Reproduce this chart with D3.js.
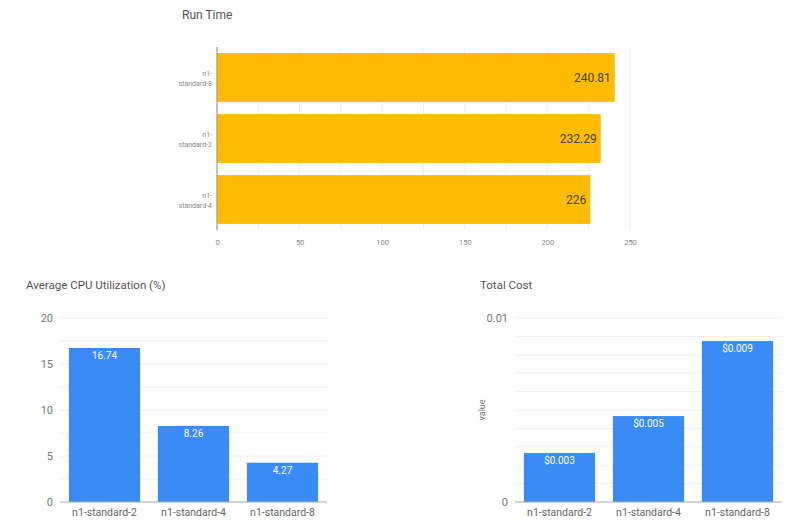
<!DOCTYPE html>
<html><head><meta charset="utf-8">
<script src="https://cdn.jsdelivr.net/npm/d3@7"></script>
<style>body{margin:0;background:#fff;font-family:Roboto,"Noto Sans",sans-serif}</style>
</head><body><svg id="c" width="800" height="525"></svg>
<script>
const runCats = ["n1-standard-8","n1-standard-2","n1-standard-4"];
const runVals = [240.81, 232.29, 226];
const runLabels = ["240.81","232.29","226"];
const runTicks = [0,50,100,150,200,250];

const cpuCats = ["n1-standard-2","n1-standard-4","n1-standard-8"];
const cpuVals = [16.74, 8.26, 4.27];
const cpuLabels = ["16.74","8.26","4.27"];
const cpuTicks = [0,5,10,15,20];

const costCats = ["n1-standard-2","n1-standard-4","n1-standard-8"];
const costVals = [0.00266, 0.00467, 0.00875];
const costLabels = ["$0.003","$0.005","$0.009"];
const costTicks = [0, 0.01];

const svg = d3.select("#c");
const yellow = "#FFBC02", blue = "#3A8BF6";

// ---- Run Time (horizontal) ----
svg.append("text").attr("x",182).attr("y",19).attr("font-size",12).attr("fill","#555").text("Run Time");
const x1 = d3.scaleLinear().domain([0,250]).range([217,630]);
const y1 = d3.scaleBand().domain(runCats).range([47,230]).paddingInner(0.2).paddingOuter(0.1);
const g1 = svg.append("g");
g1.selectAll("line.grid").data(d3.range(25,251,25)).join("line")
  .attr("x1",d=>x1(d)).attr("x2",d=>x1(d)).attr("y1",47).attr("y2",230)
  .attr("stroke","#ececec").attr("stroke-width",1);
g1.selectAll("rect").data(runVals).join("rect")
  .attr("x",x1(0)).attr("y",(d,i)=>y1(runCats[i])).attr("width",d=>x1(d)-x1(0)).attr("height",y1.bandwidth())
  .attr("fill",yellow);
g1.append("line").attr("x1",217).attr("x2",217).attr("y1",47).attr("y2",230).attr("stroke","#999").attr("stroke-width",1.2);
g1.selectAll("text.v").data(runVals).join("text")
  .attr("x",d=>x1(d)-4).attr("y",(d,i)=>y1(runCats[i])+y1.bandwidth()/2+4)
  .attr("text-anchor","end").attr("font-size",12).attr("fill","#444").text((d,i)=>runLabels[i]);
runCats.forEach(c=>{
  const t = g1.append("text").attr("text-anchor","end").attr("font-size",7).attr("fill","#888");
  const cy = y1(c)+y1.bandwidth()/2;
  t.append("tspan").attr("x",212).attr("y",cy-2).text("n1-");
  t.append("tspan").attr("x",212).attr("y",cy+8).text(c.replace("n1-",""));
});
const ax1 = d3.axisBottom(x1).tickValues(runTicks).tickSize(0).tickPadding(8);
const a1 = svg.append("g").attr("transform","translate(0,232)").call(ax1);
a1.select(".domain").remove();
a1.selectAll("text").attr("font-size",7.5).attr("fill","#888").attr("font-family","Roboto");

// ---- Bottom charts ----
function vbar(cats, vals, labels, ticks, dmax, minorStep, left, right, tickFmt, title, tx){
  const y = d3.scaleLinear().domain([0,dmax]).range([502,318]);
  const x = d3.scaleBand().domain(cats).range([left,right]).paddingInner(0.2).paddingOuter(0.1);
  const g = svg.append("g");
  svg.append("text").attr("x",tx).attr("y",289).attr("font-size",11.5).attr("fill","#555").text(title);
  g.selectAll("line.grid").data(d3.range(1, Math.round(dmax/minorStep)+1).map(k=>k*minorStep)).join("line")
    .attr("x1",left).attr("x2",right).attr("y1",d=>y(d)).attr("y2",d=>y(d))
    .attr("stroke","#eeeeee").attr("stroke-width",1);
  g.selectAll("rect").data(vals).join("rect")
    .attr("x",(d,i)=>x(cats[i])).attr("y",d=>y(d)).attr("width",x.bandwidth()).attr("height",d=>y(0)-y(d))
    .attr("fill",blue);
  g.append("line").attr("x1",left).attr("x2",right).attr("y1",502).attr("y2",502).attr("stroke","#aaa").attr("stroke-width",1.2);
  g.selectAll("text.v").data(vals).join("text")
    .attr("x",(d,i)=>x(cats[i])+x.bandwidth()/2).attr("y",d=>y(d)+11)
    .attr("text-anchor","middle").attr("font-size",10).attr("fill","#fff").text((d,i)=>labels[i]);
  const ay = svg.append("g").attr("transform",`translate(${left-7},0)`)
    .call(d3.axisLeft(y).tickValues(ticks).tickSize(0).tickPadding(0).tickFormat(tickFmt));
  ay.select(".domain").remove();
  ay.selectAll("text").attr("font-size",11).attr("fill","#777").attr("font-family","Roboto");
  const ax = svg.append("g").attr("transform","translate(0,504)")
    .call(d3.axisBottom(x).tickSize(0).tickPadding(5));
  ax.select(".domain").remove();
  ax.selectAll("text").attr("font-size",10.5).attr("fill","#666").attr("font-family","Roboto");
  return {x,y};
}
vbar(cpuCats, cpuVals, cpuLabels, cpuTicks, 20, 2.5, 60, 327, d=>d, "Average CPU Utilization (%)", 26);
vbar(costCats, costVals, costLabels, costTicks, 0.01, 0.001, 515, 782, d=>d===0?"0":String(d), "Total Cost", 480);
svg.append("text").attr("transform","translate(485,410) rotate(-90)").attr("text-anchor","middle")
  .attr("font-size",9).attr("fill","#777").text("value");
</script></body></html>
